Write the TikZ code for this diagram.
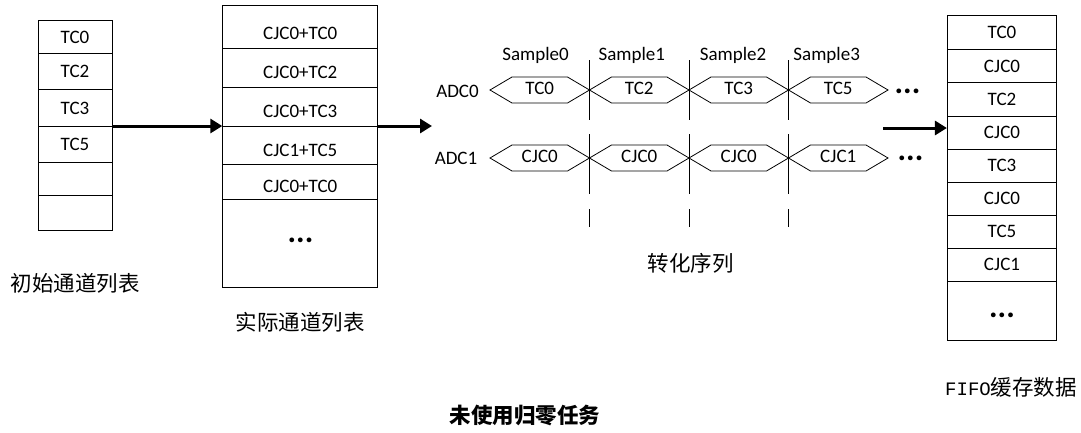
\documentclass[tikz,border=0pt]{standalone}
\usepackage{fontspec}
\setmainfont{Carlito}
\newfontfamily\cjk{Noto Sans CJK SC}
\newfontfamily\monof{Liberation Mono}
\usetikzlibrary{arrows.meta}
\begin{document}
\begin{tikzpicture}[x=1pt,y=-1pt,
  cell/.style={draw, line width=0.8pt, inner sep=0pt, anchor=north, font=\fontsize{19}{21}\selectfont},
  txt/.style={inner sep=0pt, font=\fontsize{19}{21}\selectfont},
  cjklabel/.style={inner sep=0pt, font=\cjk\fontsize{21.5}{24}\selectfont},
  flow/.style={line width=3pt, -{Triangle[length=12pt,width=14pt]}},
  wave/.style={line width=0.8pt, line join=miter},
  sepline/.style={line width=0.9pt},
  dotstxt/.style={inner sep=0pt, font=\fontsize{32}{32}\selectfont\bfseries}]
\useasboundingbox (0,0) rectangle (1081,432);

% initial channel list
\node[cell, minimum width=74pt, minimum height=33pt] (a1) at (75,20) {TC0};
\node[cell, minimum width=74pt, minimum height=36pt] (a2) at (75,53) {TC2};
\node[cell, minimum width=74pt, minimum height=37pt] (a3) at (75,89) {TC3};
\node[cell, minimum width=74pt, minimum height=36pt] (a4) at (75,126) {TC5};
\node[cell, minimum width=74pt, minimum height=33pt] (a5) at (75,162) {};
\node[cell, minimum width=74pt, minimum height=35pt] (a6) at (75,195) {};
\node[cjklabel] (la) at (75,283) {初始通道列表};

% actual channel list
\node[cell, minimum width=155pt, minimum height=42.7pt] (b1) at (300.2,5) {};
\node[cell, minimum width=155pt, minimum height=39pt] (b2) at (300.2,47.7) {};
\node[cell, minimum width=155pt, minimum height=39.3pt] (b3) at (300.2,86.7) {};
\node[cell, minimum width=155pt, minimum height=38.3pt] (b4) at (300.2,126) {};
\node[cell, minimum width=155pt, minimum height=35pt] (b5) at (300.2,164.3) {};
\node[cell, minimum width=155pt, minimum height=88pt] (b6) at (300.2,199.3) {};
\node[txt] (tb1) at (300.2,33.3) {CJC0+TC0};
\node[txt] (tb2) at (300.2,72.7) {CJC0+TC2};
\node[txt] (tb3) at (300.2,111.7) {CJC0+TC3};
\node[txt] (tb4) at (300.2,150.7) {CJC1+TC5};
\node[txt] (tb5) at (300.2,186.7) {CJC0+TC0};
\node[dotstxt] (db) at (300.5,240) {...};
\node[cjklabel] (lb) at (300,322) {实际通道列表};

% arrows
\draw[flow] (a4.north east) -- (b4.north west);
\coordinate (c2) at (432,126);
\draw[flow] (b4.north east) -- (c2);

% conversion sequence
\node[txt] (adc0) at (457.5,91) {ADC0};
\node[txt] (adc1) at (456,158.3) {ADC1};
\node[txt] (s0) at (535.5,55) {Sample0};
\node[txt] (s1) at (631.8,55) {Sample1};
\node[txt] (s2) at (733,55) {Sample2};
\node[txt] (s3) at (826.7,55) {Sample3};
\foreach \k/\t/\u in {0/TC0/CJC0,1/TC2/CJC0,2/TC3/CJC0,3/TC5/CJC1}{
  \pgfmathsetmacro{\xo}{490+99.5*\k}
  \draw[wave] (\xo,90) -- (\xo+22,77) -- (\xo+77.5,77) -- (\xo+99.5,90) -- (\xo+77.5,103) -- (\xo+22,103) -- cycle;
  \draw[wave] (\xo,158) -- (\xo+22,145) -- (\xo+77.5,145) -- (\xo+99.5,158) -- (\xo+77.5,171) -- (\xo+22,171) -- cycle;
  \node[txt] (h0\k) at (\xo+49.75,88.5) {\t};
  \node[txt] (h1\k) at (\xo+49.75,156.5) {\u};
}
\foreach \k in {1,2,3}{
  \pgfmathsetmacro{\xl}{490+99.5*\k}
  \draw[sepline] (\xl,60) -- (\xl,120);
  \draw[sepline] (\xl,134) -- (\xl,194);
  \draw[sepline] (\xl,209) -- (\xl,227);
}
\node[dotstxt] (d0) at (907.5,91.5) {...};
\node[dotstxt] (d1) at (910.5,158.5) {...};
\node[cjklabel] (lc) at (690.5,263) {转化序列};

% FIFO
\node[cell, minimum width=109.4pt, minimum height=34pt] (f1) at (1002,15) {TC0};
\node[cell, minimum width=109.4pt, minimum height=33.3pt] (f2) at (1002,49) {CJC0};
\node[cell, minimum width=109.4pt, minimum height=33.4pt] (f3) at (1002,82.3) {TC2};
\node[cell, minimum width=109.4pt, minimum height=33.3pt] (f4) at (1002,115.7) {CJC0};
\node[cell, minimum width=109.4pt, minimum height=32.7pt] (f5) at (1002,149) {TC3};
\node[cell, minimum width=109.4pt, minimum height=33.3pt] (f6) at (1002,181.7) {CJC0};
\node[cell, minimum width=109.4pt, minimum height=32.7pt] (f7) at (1002,215) {TC5};
\node[cell, minimum width=109.4pt, minimum height=33.3pt] (f8) at (1002,247.7) {CJC1};
\node[cell, minimum width=109.4pt, minimum height=59pt] (f9) at (1002,281) {};
\node[dotstxt] (df) at (1002,315) {...};
\node[inner sep=0pt] (lf) at (1011,387) {\monof\fontsize{19}{21}\selectfont FIFO\cjk\fontsize{21.5}{24}\selectfont 缓存数据};

\coordinate (c3) at (883,128);
\draw[flow] (c3) -- (c3 -| f4.west);

% title
\node[inner sep=0pt, font=\cjk\bfseries\fontsize{21.5}{24}\selectfont] (title) at (525,415) {未使用归零任务};
\end{tikzpicture}
\end{document}
